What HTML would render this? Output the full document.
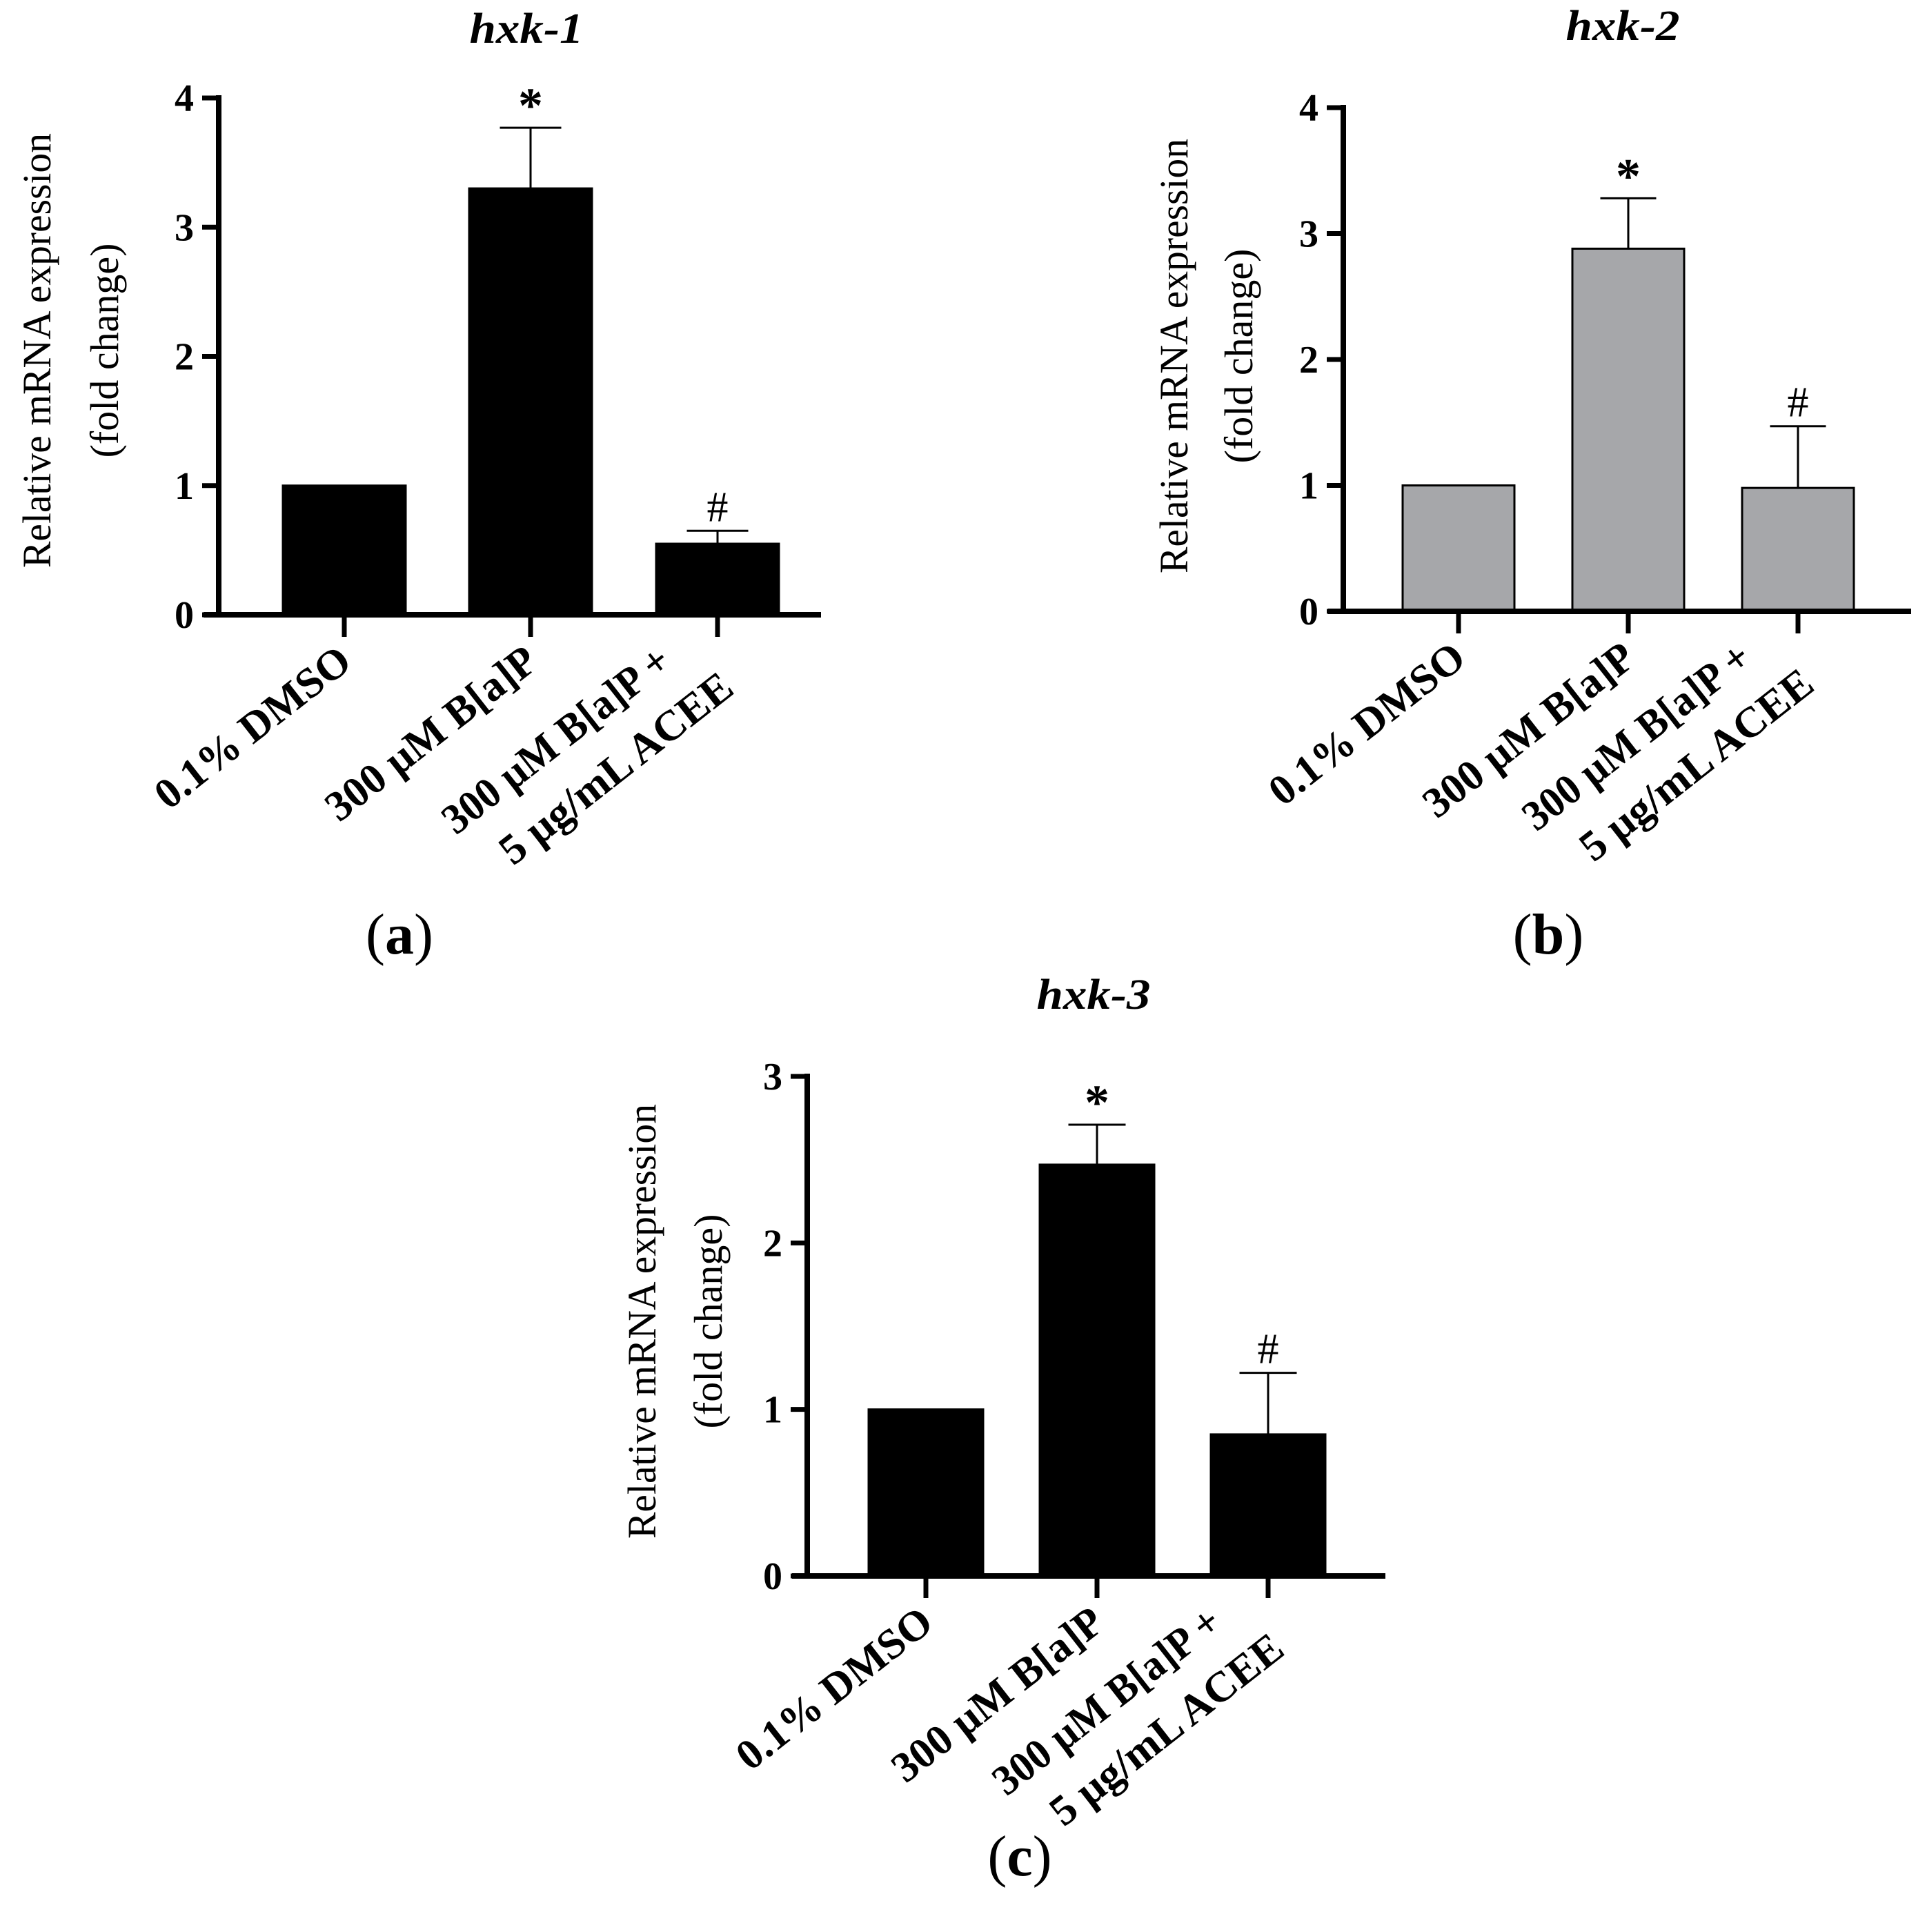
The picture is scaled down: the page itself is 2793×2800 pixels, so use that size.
<!DOCTYPE html>
<html><head><meta charset="utf-8"><style>
html,body{margin:0;padding:0;background:#fff;}
svg{display:block;}
text{font-family:"Liberation Serif",serif;fill:#000;}
</style></head><body>
<svg id="fig" width="2793" height="2800" viewBox="0 0 2793 2800" xmlns="http://www.w3.org/2000/svg"></svg>
<script>
const categories = ["0.1% DMSO", "300 µM B[a]P", "300 µM B[a]P +|5 µg/mL ACEE"];
const hxk1Values = [1.0, 3.3, 0.55];
const hxk1Errors = [0, 0.47, 0.1];
const hxk2Values = [1.0, 2.88, 0.98];
const hxk2Errors = [0, 0.4, 0.49];
const hxk3Values = [1.0, 2.47, 0.85];
const hxk3Errors = [0, 0.24, 0.37];
const hxk1Ticks = [0, 1, 2, 3, 4];
const hxk2Ticks = [0, 1, 2, 3, 4];
const hxk3Ticks = [0, 1, 2, 3];
const hxk1Marks = ["", "*", "#"];
const hxk2Marks = ["", "*", "#"];
const hxk3Marks = ["", "*", "#"];

const NS = "http://www.w3.org/2000/svg";
const svg = document.getElementById("fig");
function mk(tag, attrs, parent) {
  const e = document.createElementNS(NS, tag);
  for (const k in attrs) e.setAttribute(k, attrs[k]);
  (parent || svg).appendChild(e);
  return e;
}

const panels = [
  {id:"a", title:"hxk-1", vals:hxk1Values, errs:hxk1Errors, ticks:hxk1Ticks, marks:hxk1Marks, fill:"#000",
   ax:317, y0:891, yTop:142, xEnd:1190, bars:[499,769,1040], bw:178, tx:763, ty:62, yl1:53, yl2:151, ylc:508, lab:[579,1354]},
  {id:"b", title:"hxk-2", vals:hxk2Values, errs:hxk2Errors, ticks:hxk2Ticks, marks:hxk2Marks, fill:"#a6a7aa",
   ax:1947, y0:886, yTop:156, xEnd:2770, bars:[2114,2360,2606], bw:162, tx:2352, ty:58, yl1:1701, yl2:1795, ylc:516, lab:[2244,1354]},
  {id:"c", title:"hxk-3", vals:hxk3Values, errs:hxk3Errors, ticks:hxk3Ticks, marks:hxk3Marks, fill:"#000",
   ax:1170, y0:2284, yTop:1560, xEnd:2008, bars:[1342,1590,1838], bw:166, tx:1585, ty:1462, yl1:930, yl2:1026, ylc:1915, lab:[1478,2690]}
];

panels.forEach(p => {
  const g = mk("g", {});
  
  
  const maxT = p.ticks[p.ticks.length - 1];
  const yS = v => p.y0 - (p.y0 - p.yTop) * v / maxT;

  const t = mk("text", {x:p.tx, y:p.ty, "text-anchor":"middle", "font-size":62, "font-weight":"bold", "font-style":"italic", textLength:165, lengthAdjust:"spacingAndGlyphs"}, g);
  t.textContent = p.title;
  
  

  const l1 = mk("text", {x:0, y:0, "text-anchor":"middle", "font-size":58, transform:`translate(${p.yl1+20},${p.ylc}) rotate(-90)`, textLength:630, lengthAdjust:"spacingAndGlyphs"}, g);
  l1.textContent = "Relative mRNA expression";
  
  
  const l2 = mk("text", {x:0, y:0, "text-anchor":"middle", "font-size":58, transform:`translate(${p.yl2+20},${p.ylc}) rotate(-90)`}, g);
  l2.textContent = "(fold change)";
  
  

  p.vals.forEach((v, i) => {
    const cx = p.bars[i];
    const r = mk("rect", {x:cx - p.bw/2, y:yS(v), width:p.bw, height:p.y0 - yS(v), fill:p.fill, stroke:"#000", "stroke-width":3}, g);
    
    
    if (p.errs[i] > 0) {
      const top = yS(v + p.errs[i]);
      const e = mk("path", {d:`M${cx},${yS(v)}V${top}M${cx - p.bw/4},${top}H${cx + p.bw/4}`, stroke:"#000", "stroke-width":3, fill:"none"}, g);
      
      
      if (p.marks[i]) {
        const star = p.marks[i] === "*";
        const m = mk("text", {x:cx, y:top - (star ? 8 : 14), "text-anchor":"middle", "font-size": star ? 72 : 62, "font-weight": star ? "bold" : "normal"}, g);
        m.textContent = p.marks[i];
        
        
      }
    }
  });

  const ya = mk("path", {d:`M${p.ax},${p.yTop - 4}V${p.y0}`, stroke:"#000", "stroke-width":8, fill:"none"}, g);
  
  
  const xa = mk("path", {d:`M${p.ax - 22},${p.y0}H${p.xEnd}`, stroke:"#000", "stroke-width":8, fill:"none"}, g);
  
  

  p.ticks.forEach(tv => {
    const y = yS(tv);
    const tk = mk("path", {d:`M${p.ax - 24},${y}H${p.ax}`, stroke:"#000", "stroke-width":7}, g);
    
    
    const tl = mk("text", {x:p.ax - 36, y:y + 19, "text-anchor":"end", "font-size":56, "font-weight":"bold"}, g);
    tl.textContent = tv;
    
    
  });

  categories.forEach((c, i) => {
    const cx = p.bars[i];
    const tk = mk("path", {d:`M${cx},${p.y0}V${p.y0 + 32}`, stroke:"#000", "stroke-width":7}, g);
    
    
    const lines = c.split("|");
    const multi = lines.length > 1;
    const tl = mk("text", {x:0, y:0, "text-anchor":"end", "font-size":62, "font-weight":"bold", transform:`translate(${cx + (multi ? -64 : 14)},${p.y0 + 74}) rotate(-38)`}, g);
    
    
    lines.forEach((ln, j) => {
      const attrs = {x: j === 0 ? 0 : 48, y: j * 86};
      if (multi) { attrs.textLength = j === 0 ? 400 : 410; attrs.lengthAdjust = "spacingAndGlyphs"; }
      const ts = mk("tspan", attrs, tl);
      ts.textContent = ln;
    });
  });

  const pl = mk("text", {x:p.lab[0], y:p.lab[1] + 28, "text-anchor":"middle", "font-size":84}, g);
  
  
  const o = mk("tspan", {}, pl); o.textContent = "(";
  const b = mk("tspan", {"font-weight":"bold"}, pl); b.textContent = p.id;
  const c2 = mk("tspan", {}, pl); c2.textContent = ")";
});
</script>
</body></html>
